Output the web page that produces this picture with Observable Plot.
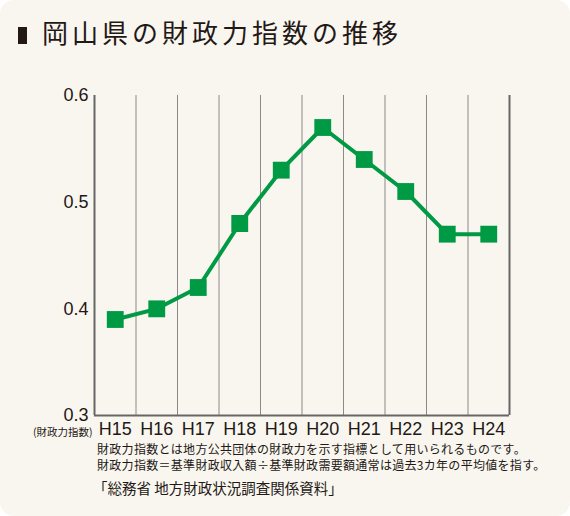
<!DOCTYPE html>
<html><head><meta charset="utf-8">
<script src="https://cdn.jsdelivr.net/npm/d3@7"></script>
<script src="https://cdn.jsdelivr.net/npm/@observablehq/plot@0.6"></script>
<style>
html,body{margin:0;padding:0;background:#ffffff;}
#card{position:relative;width:570px;height:516px;background:#f9f6ef;border-radius:14px;overflow:hidden;font-family:"Noto Sans CJK JP","Noto Sans",sans-serif;color:#231815;}
#title{position:absolute;left:18px;top:16px;font-size:26px;letter-spacing:4px;line-height:32px;white-space:nowrap;}
#title .bar{display:inline-block;width:9px;height:17px;background:#231815;margin-right:15px;vertical-align:-1px;}
#chart{position:absolute;left:0;top:62px;}
#notes{position:absolute;left:97px;top:441px;font-size:12px;letter-spacing:0.3px;line-height:15.5px;white-space:nowrap;}
#source{position:absolute;left:93px;top:478px;font-size:14.5px;line-height:19px;white-space:nowrap;}
</style>
</head><body>
<div id="card">
  <div id="title"><span class="bar"></span><span id="titleText"></span></div>
  <div id="chart"></div>
  <div id="notes"></div>
  <div id="source"></div>
</div>
<script>
const titleText = "岡山県の財政力指数の推移";
const years = ["H15","H16","H17","H18","H19","H20","H21","H22","H23","H24"];
const values = [0.39, 0.40, 0.42, 0.48, 0.53, 0.57, 0.54, 0.51, 0.47, 0.47];
const yTicks = [0.3, 0.4, 0.5, 0.6];
const yLabel = "(財政力指数)";
const noteLines = [
  "財政力指数とは地方公共団体の財政力を示す指標として用いられるものです。",
  "財政力指数＝基準財政収入額÷基準財政需要額通常は過去3カ年の平均値を指す。"
];
const sourceText = "「総務省 地方財政状況調査関係資料」";

document.getElementById("titleText").textContent = titleText;
document.getElementById("notes").innerHTML = noteLines.map(s => `<div>${s}</div>`).join("");
document.getElementById("source").textContent = sourceText;

const data = years.map((y, i) => ({year: y, pos: i + 0.5, value: values[i]}));
const inner = d3.range(1, years.length);
const green = "#009944";

const chart = Plot.plot({
  width: 570,
  height: 383,
  marginLeft: 94,
  marginRight: 61,
  marginTop: 33,
  marginBottom: 30,
  style: {background: "transparent", fontFamily: "'Liberation Sans', Arial, sans-serif", color: "#231815"},
  x: {domain: [0, years.length], axis: null},
  y: {domain: [0.3, 0.6], axis: null},
  marks: [
    Plot.ruleX(inner, {x: d => d, y1: 0.3, y2: 0.6, stroke: "#8a8a8a", strokeWidth: 1}),
    Plot.ruleX([0, years.length], {x: d => d, y1: 0.3, y2: 0.6, stroke: "#666666", strokeWidth: 2}),
    Plot.ruleY([0.3], {y: d => d, x1: 0, x2: years.length, stroke: "#666666", strokeWidth: 2}),
    Plot.axisX(data.map(d => d.pos), {tickSize: 0, tickPadding: 7, tickFormat: p => years[Math.floor(p)], fontSize: 18, fill: "#231815", label: null}),
    Plot.axisY(yTicks, {tickSize: 0, tickPadding: 6, tickFormat: d3.format(".1f"), fontSize: 18, fill: "#231815", label: null}),
    Plot.text([yLabel], {frameAnchor: "bottom-left", text: d => d, dx: -2, dy: 20, textAnchor: "end", fontSize: 10.5, fill: "#231815", fontFamily: "'Noto Sans CJK JP', sans-serif"}),
    Plot.line(data, {x: "pos", y: "value", stroke: green, strokeWidth: 4}),
    Plot.dot(data, {x: "pos", y: "value", symbol: "square", r: 9.5, fill: green, stroke: "none"})
  ]
});
document.getElementById("chart").appendChild(chart);
</script>
</body></html>
